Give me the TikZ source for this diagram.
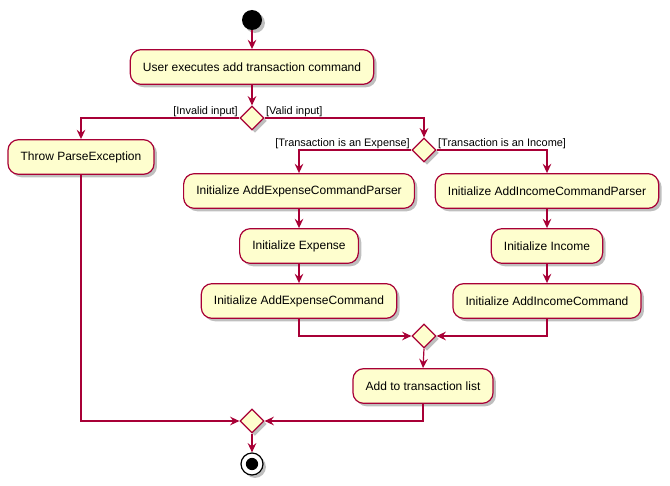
\documentclass[tikz,border=0pt]{standalone}
\usepackage{fontspec}
\setmainfont{Liberation Sans}
\usetikzlibrary{shapes.geometric,arrows.meta,shadows}
\definecolor{umlred}{HTML}{A80036}
\definecolor{umlfill}{HTML}{FEFECE}
\begin{document}
\begin{tikzpicture}[x=0.75pt,y=-0.75pt]
\tikzstyle{every node}=[font=\fontsize{9}{11}\selectfont];
\tikzstyle{shade}=[drop shadow={shadow xshift=2.2pt,shadow yshift=-2.2pt,fill=black!50,opacity=.5}];
\tikzstyle{act}=[draw=umlred,fill=umlfill,line width=0.9pt,rounded corners=8pt,minimum height=26pt,inner xsep=9.5pt,shade];
\tikzstyle{choice}=[draw=umlred,fill=umlfill,line width=0.9pt,shape=diamond,minimum size=18pt,inner sep=0pt,shade];
\tikzstyle{guard}=[font=\fontsize{8.2}{10}\selectfont,inner sep=1pt];
\tikzstyle{arr}=[draw=umlred,line width=0.9pt,-{Stealth[length=7pt,width=6.5pt,inset=2.5pt]}];
\useasboundingbox (0,0) rectangle (670,485);
% start and first action
\node [circle,fill=black,minimum size=15pt,inner sep=0pt,shade] (start) at (252,20) {};
\node [act] (user) at (252,67) {User executes add transaction command};
\node [choice] (d1) at (252,118) {};
\node [guard,anchor=south east] (lbad) at (d1.west) {[Invalid input]};
\node [guard,anchor=south west] (lgood) at (d1.east) {[Valid input]};
\node [act] (throw) at (81,157) {Throw ParseException};
\node [choice] (d2) at (424,150) {};
\node [guard,anchor=south east] (lexp) at (d2.west) {[Transaction is an Expense]};
\node [guard,anchor=south west] (linc) at (d2.east) {[Transaction is an Income]};
% expense branch
\node [act] (expparser) at (299,191) {Initialize AddExpenseCommandParser};
\node [act] (expense) at (299,246) {Initialize Expense};
\node [act] (expcmd) at (299,301) {Initialize AddExpenseCommand};
% income branch
\node [act] (incparser) at (547,191) {Initialize AddIncomeCommandParser};
\node [act] (income) at (547,246) {Initialize Income};
\node [act] (inccmd) at (547,301) {Initialize AddIncomeCommand};
\node [choice] (d3) at (424,336) {};
\node [act] (add) at (423,386) {Add to transaction list};
\node [choice] (d4) at (252,421) {};
\node [circle,draw=black,line width=0.9pt,fill=white,minimum size=16.5pt,inner sep=0pt,shade,
  path picture={\fill[black] (path picture bounding box.center) circle (4.6pt);}] (stop) at (252,464) {};
\draw [arr] (start) -- (user);
\draw [arr] (user) -- (d1);
\draw [arr] (d1.west) -| (throw.north);
\draw [arr] (d1.east) -| (d2.north);
\draw [arr] (d2.west) -| (expparser.north);
\draw [arr] (d2.east) -| (incparser.north);
\draw [arr] (expparser) -- (expense);
\draw [arr] (expense) -- (expcmd);
\draw [arr] (incparser) -- (income);
\draw [arr] (income) -- (inccmd);
\draw [arr] (expcmd.south) |- (d3.west);
\draw [arr] (inccmd.south) |- (d3.east);
\draw [arr] (d3.south) -- (add.north);
\draw [arr] (add.south) |- (d4.east);
\draw [arr] (throw.south) |- (d4.west);
\draw [arr] (d4.south) -- (stop.north);
\end{tikzpicture}
\end{document}
